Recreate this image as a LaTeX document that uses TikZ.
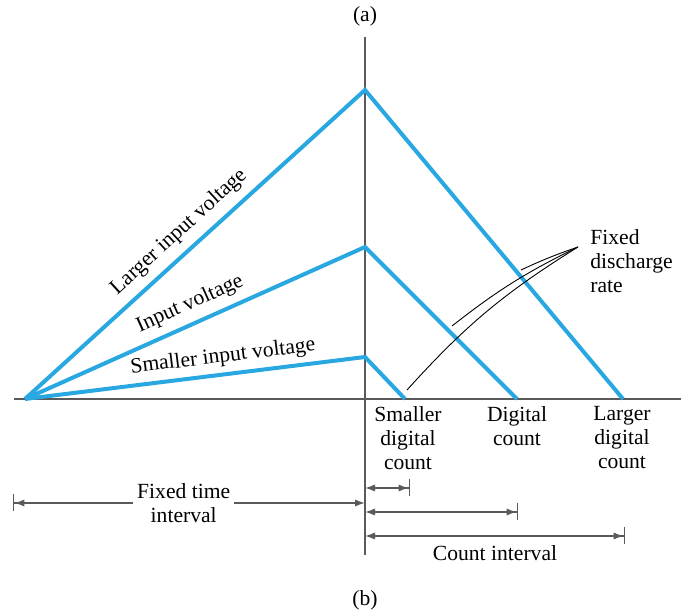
\documentclass[tikz,border=0pt]{standalone}
\usepackage{fontspec}
\setmainfont{Liberation Serif}
\usetikzlibrary{arrows.meta}
\definecolor{rampblue}{RGB}{40,167,225}
\definecolor{axisgray}{RGB}{90,90,90}
\tikzset{tipa/.tip={Latex[length=5pt,width=3.6pt,sep=0pt]},
  tipbar/.tip={Bar[width=8.5pt,line width=.7pt]}}
\begin{document}
\begin{tikzpicture}[x=.5pt,y=-.5pt,font=\fontsize{10.8}{12}\selectfont,
  ramp/.style={draw=rampblue,line width=2pt},
  axis/.style={draw=axisgray,line width=1pt},
  dim/.style={draw=axisgray,line width=.7pt},
  lead/.style={draw=black,line width=.45pt},
  lbl/.style={align=center,inner sep=1pt}]
\useasboundingbox (0,0) rectangle (681,614);
% axes
\coordinate (vtop) at (365,37); \coordinate (vbot) at (365,555);
\coordinate (hleft) at (14,399); \coordinate (hright) at (681,399);
\draw[axis] (vtop) -- (vbot); \draw[axis] (hleft) -- (hright);
\node[lbl] (capa) at (365,16) {(a)}; \node[lbl] (capb) at (365,600) {(b)};
% ramps up and down
\coordinate (o) at (25,399);
\coordinate (pkL) at (365,90); \coordinate (pkM) at (365,247); \coordinate (pkS) at (365,357);
\coordinate (endL) at (623,399); \coordinate (endM) at (517,399); \coordinate (endS) at (405,399);
\draw[ramp] (o) -- (pkL) -- (endL);
\draw[ramp] (o) -- (pkM) -- (endM);
\draw[ramp] (o) -- (pkS) -- (endS);
\node[lbl,rotate=42.3] (vLg) at (179,232) {Larger input voltage};
\node[lbl,rotate=24.1] (vMd) at (190,304) {Input voltage};
\node[lbl,rotate=7] (vSm) at (223,357) {Smaller input voltage};
% discharge note
\node[lbl,anchor=west,align=left] (fdr) at (588,261) {Fixed\\discharge\\rate};
\coordinate (fdrO) at (578,247);
\coordinate (hit1) at (521,270); \coordinate (hit2) at (452,326); \coordinate (hit3) at (407,390);
\draw[lead] (fdrO) to[bend right=3] (hit1);
\draw[lead] (fdrO) to[bend right=6] (hit2);
\draw[lead] (fdrO) to[bend right=8] (hit3);
% counts
\node[lbl] (cSm) at (408,438) {Smaller\\digital\\count};
\node[lbl] (cMd) at (517,426) {Digital\\count};
\node[lbl] (cLg) at (622,438) {Larger\\digital\\count};
% intervals
\coordinate (ft0) at (13,503); \coordinate (ft1) at (365,503);
\draw[dim,{tipbar[]tipa[]}-tipa] (ft0) -- node[lbl,fill=white,inner sep=2pt,pos=.485] (ftl) {Fixed time\\interval} (ft1);
\coordinate (cs0) at (365,488); \coordinate (cs1) at (410,488);
\coordinate (cm0) at (365,512); \coordinate (cm1) at (518,512);
\coordinate (cl0) at (365,536); \coordinate (cl1) at (625,536);
\draw[dim,tipa-{tipa[]tipbar[]}] (cs0) -- (cs1);
\draw[dim,tipa-{tipa[]tipbar[]}] (cm0) -- (cm1);
\draw[dim,tipa-{tipa[]tipbar[]}] (cl0) -- (cl1);
\node[lbl] (cint) at (495,553) {Count interval};
\end{tikzpicture}
\end{document}
